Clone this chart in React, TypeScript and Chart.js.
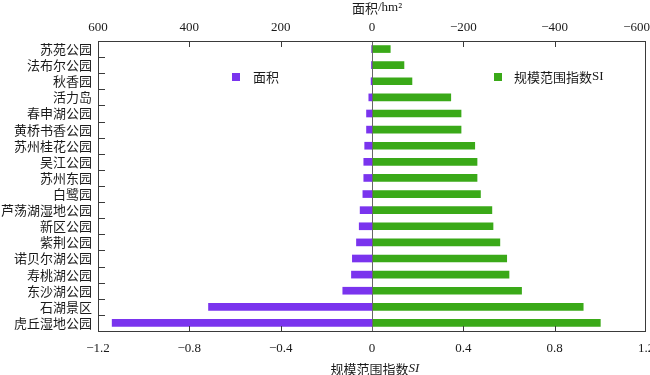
import React, { useEffect, useRef } from "react";
import { Chart, registerables } from "chart.js";

Chart.register(...registerables);

// ---- data ----
const categories = [
  "苏苑公园",
  "法布尔公园",
  "秋香园",
  "活力岛",
  "春申湖公园",
  "黄桥书香公园",
  "苏州桂花公园",
  "吴江公园",
  "苏州东园",
  "白鹭园",
  "芦荡湖湿地公园",
  "新区公园",
  "紫荆公园",
  "诺贝尔湖公园",
  "寿桃湖公园",
  "东沙湖公园",
  "石湖景区",
  "虎丘湿地公园",
];
const siValues = [
  0.08, 0.14, 0.175, 0.345, 0.39, 0.39, 0.45, 0.46, 0.46, 0.475, 0.525, 0.53,
  0.56, 0.59, 0.6, 0.655, 0.925, 1.0,
];
const areaValues = [
  0.5, 1, 2, 7, 12, 12, 16, 18, 18, 20, 26, 28, 34, 43, 45, 64, 358, 569,
];
const AREA_LABEL = "面积";
const SI_LABEL_MAIN = "规模范围指数";
const SI_LABEL_SUFFIX = "SI";
const TOP_TITLE_MAIN = "面积";
const TOP_TITLE_SUFFIX = "/hm²";

const PURPLE = "#7a34ee";
const GREEN = "#3aa918";
const TEXT = "#1a1a1a";
const FRAME = "#3a3a3a";

const SERIF = "'Liberation Serif', 'Times New Roman', 'Noto Sans CJK SC', serif";
const CJK = "'Noto Sans CJK SC', 'Liberation Serif', sans-serif";

const fmt = (v: number) => {
  const r = Math.round(v * 10) / 10;
  if (r === 0) return "0";
  const s = Math.abs(r).toString();
  return r < 0 ? "\u2212" + s : s;
};

const drawMixed = (
  ctx: CanvasRenderingContext2D,
  main: string,
  suffix: string,
  cx: number,
  cy: number,
  suffixItalic: boolean
) => {
  ctx.font = `13px ${CJK}`;
  const w1 = ctx.measureText(main).width;
  ctx.font = `${suffixItalic ? "italic " : ""}13px ${SERIF}`;
  const w2 = ctx.measureText(suffix).width;
  const x0 = cx - (w1 + w2) / 2;
  ctx.textAlign = "left";
  ctx.textBaseline = "middle";
  ctx.font = `13px ${CJK}`;
  ctx.fillText(main, x0, cy);
  ctx.font = `${suffixItalic ? "italic " : ""}13px ${SERIF}`;
  ctx.fillText(suffix, x0 + w1, cy);
};

const decorPlugin = {
  id: "decor",
  afterDatasetsDraw(chart: any) {
    const { ctx, chartArea: a, scales } = chart;
    ctx.save();
    // zero line
    const x0 = Math.round(scales.x.getPixelForValue(0)) + 0.5;
    ctx.strokeStyle = "#666";
    ctx.lineWidth = 1;
    ctx.beginPath();
    ctx.moveTo(x0, a.top);
    ctx.lineTo(x0, a.bottom);
    ctx.stroke();

    // frame
    ctx.strokeStyle = FRAME;
    ctx.strokeRect(
      Math.round(a.left) + 0.5,
      Math.round(a.top) + 0.5,
      Math.round(a.right - a.left) - 1,
      Math.round(a.bottom - a.top)
    );

    // inward tick marks
    ctx.beginPath();
    for (const t of scales.x2.ticks) {
      if (Math.abs(t.value) < 1e-9 || Math.abs(Math.abs(t.value) - 600) < 1e-9) continue;
      const px = Math.round(scales.x2.getPixelForValue(t.value)) + 0.5;
      ctx.moveTo(px, a.top);
      ctx.lineTo(px, a.top + 6);
    }
    for (const t of scales.x.ticks) {
      if (Math.abs(t.value) < 1e-9 || Math.abs(Math.abs(t.value) - 1.2) < 1e-9) continue;
      const px = Math.round(scales.x.getPixelForValue(t.value)) + 0.5;
      ctx.moveTo(px, a.bottom);
      ctx.lineTo(px, a.bottom - 5);
    }
    for (let i = 1; i < categories.length; i++) {
      const py =
        Math.round(
          (scales.y.getPixelForValue(i - 1) + scales.y.getPixelForValue(i)) / 2
        ) + 0.5;
      ctx.moveTo(a.left, py);
      ctx.lineTo(a.left + 7, py);
    }
    ctx.stroke();

    // top tick labels
    ctx.fillStyle = TEXT;
    ctx.font = `13px ${SERIF}`;
    ctx.textBaseline = "middle";
    ctx.textAlign = "left";
    const W = chart.width;
    for (const t of scales.x2.ticks) {
      const label = fmt(t.value);
      const w = ctx.measureText(label).width;
      let cx = scales.x2.getPixelForValue(t.value);
      if (cx + w / 2 > W) cx = W - w / 2;
      if (cx - w / 2 < 0) cx = w / 2;
      ctx.fillText(label, cx - w / 2, 28);
    }

    // titles
    drawMixed(ctx, TOP_TITLE_MAIN, TOP_TITLE_SUFFIX, 377, 8, false);
    drawMixed(ctx, SI_LABEL_MAIN, SI_LABEL_SUFFIX, 375, 369, true);

    // legend
    const ds = chart.data.datasets;
    ctx.fillStyle = ds[0].backgroundColor;
    ctx.fillRect(232, 73, 8, 8);
    ctx.fillStyle = ds[1].backgroundColor;
    ctx.fillRect(494, 73, 8, 8);
    ctx.fillStyle = TEXT;
    ctx.textAlign = "left";
    ctx.textBaseline = "middle";
    ctx.font = `13px ${CJK}`;
    ctx.fillText(ds[0].label, 253, 77);
    ctx.font = `13px ${CJK}`;
    const m = SI_LABEL_MAIN;
    const wm = ctx.measureText(m).width;
    ctx.fillText(m, 514, 77);
    ctx.font = `13px ${SERIF}`;
    ctx.fillText(SI_LABEL_SUFFIX, 514 + wm, 77);
    ctx.restore();
  },
};

export default function App() {
  const ref = useRef<HTMLCanvasElement | null>(null);
  useEffect(() => {
    document.body.style.margin = "0";
    const canvas = ref.current;
    if (!canvas) return;
    const chart = new Chart(canvas, {
      type: "bar",
      data: {
        labels: categories,
        datasets: [
          {
            label: AREA_LABEL,
            data: areaValues,
            xAxisID: "x2",
            yAxisID: "y",
            backgroundColor: PURPLE,
            barThickness: 7,
            grouped: false,
          } as any,
          {
            label: SI_LABEL_MAIN + SI_LABEL_SUFFIX,
            data: siValues,
            xAxisID: "x",
            yAxisID: "y",
            backgroundColor: GREEN,
            barThickness: 7,
            grouped: false,
          } as any,
        ],
      },
      options: {
        indexAxis: "y",
        responsive: false,
        animation: false,
        devicePixelRatio: 1,
        layout: { padding: { left: 0, right: 4, top: 0, bottom: 0 } },
        plugins: { legend: { display: false }, tooltip: { enabled: false } },
        scales: {
          x: {
            type: "linear",
            position: "bottom",
            min: -1.2,
            max: 1.2,
            ticks: {
              stepSize: 0.4,
              callback: (v: any) => fmt(Number(v)),
              font: { family: SERIF, size: 13 },
              color: TEXT,
              padding: 10,
              maxRotation: 0,
              autoSkip: false,
            },
            grid: { display: false, drawTicks: false },
            border: { display: false },
            afterFit: (s: any) => {
              s.height = 44;
              s.paddingLeft = 0;
              s.paddingRight = 0;
            },
          },
          x2: {
            type: "linear",
            position: "top",
            min: -600,
            max: 600,
            reverse: true,
            ticks: { stepSize: 200, display: false },
            grid: { display: false, drawTicks: false },
            border: { display: false },
            afterFit: (s: any) => {
              s.height = 41;
              s.paddingLeft = 0;
              s.paddingRight = 0;
            },
          },
          y: {
            type: "category",
            position: "left",
            ticks: {
              font: { family: CJK, size: 13 },
              color: TEXT,
              padding: 6,
              autoSkip: false,
            },
            grid: { display: false, drawTicks: false },
            border: { display: false },
            afterFit: (s: any) => {
              s.width = 98;
              s.paddingTop = 0;
              s.paddingBottom = 0;
            },
          },
        } as any,
      },
      plugins: [decorPlugin as any],
    });
    return () => chart.destroy();
  }, []);
  return (
    <div style={{ width: 650, height: 375 }}>
      <canvas ref={ref} width={650} height={375} />
    </div>
  );
}
